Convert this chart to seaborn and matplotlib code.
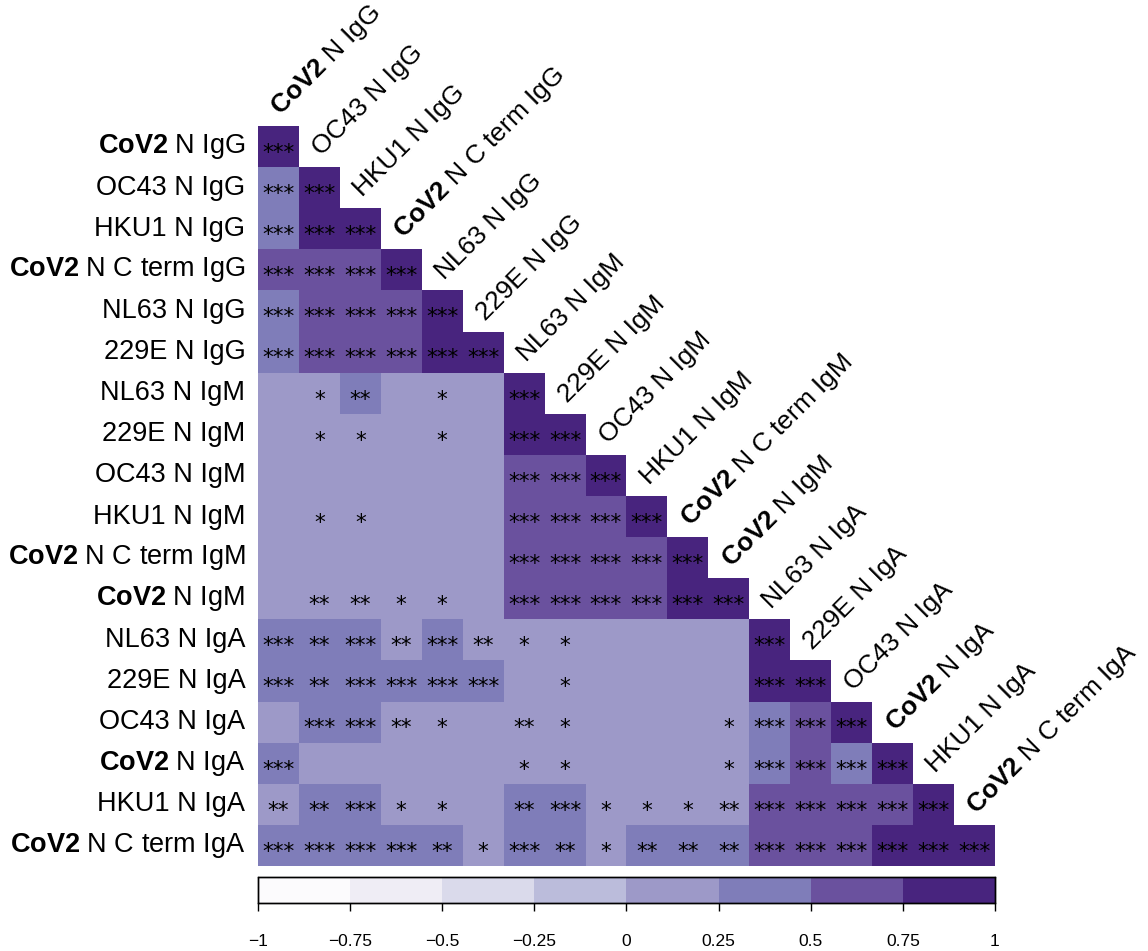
import numpy as np
import pandas as pd
import matplotlib
matplotlib.use("Agg")
import matplotlib.pyplot as plt
from matplotlib.colors import ListedColormap
import seaborn as sns

# Antigen / isotype labels (rows and columns share the same order)
labels = [
    "$\\mathbf{CoV2}$ N IgG", "OC43 N IgG", "HKU1 N IgG", "$\\mathbf{CoV2}$ N C term IgG",
    "NL63 N IgG", "229E N IgG", "NL63 N IgM", "229E N IgM", "OC43 N IgM", "HKU1 N IgM",
    "$\\mathbf{CoV2}$ N C term IgM", "$\\mathbf{CoV2}$ N IgM", "NL63 N IgA", "229E N IgA",
    "OC43 N IgA", "$\\mathbf{CoV2}$ N IgA", "HKU1 N IgA", "$\\mathbf{CoV2}$ N C term IgA",
]

# Lower triangle of the correlation matrix (estimated from the figure)
corr_rows = [
    [1.0],
    [0.45, 1.0],
    [0.45, 0.85, 1.0],
    [0.6, 0.65, 0.65, 1.0],
    [0.45, 0.6, 0.6, 0.6, 1.0],
    [0.45, 0.6, 0.6, 0.6, 0.8, 1.0],
    [0.05, 0.15, 0.26, 0.1, 0.15, 0.1, 1.0],
    [0.05, 0.15, 0.15, 0.1, 0.15, 0.1, 0.85, 1.0],
    [0.05, 0.1, 0.1, 0.05, 0.1, 0.1, 0.7, 0.7, 1.0],
    [0.05, 0.15, 0.15, 0.1, 0.1, 0.1, 0.7, 0.7, 0.7, 1.0],
    [0.05, 0.1, 0.1, 0.1, 0.1, 0.1, 0.65, 0.65, 0.7, 0.7, 1.0],
    [0.1, 0.2, 0.2, 0.15, 0.15, 0.1, 0.7, 0.7, 0.7, 0.7, 0.8, 1.0],
    [0.3, 0.28, 0.3, 0.22, 0.3, 0.2, 0.15, 0.15, 0.05, 0.05, 0.05, 0.1, 1.0],
    [0.35, 0.27, 0.3, 0.3, 0.3, 0.3, 0.1, 0.15, 0.05, 0.05, 0.05, 0.05, 0.85, 1.0],
    [0.1, 0.3, 0.3, 0.2, 0.15, 0.1, 0.2, 0.15, 0.05, 0.05, 0.05, 0.15, 0.45, 0.6, 1.0],
    [0.3, 0.1, 0.1, 0.1, 0.05, 0.05, 0.15, 0.15, 0.05, 0.05, 0.05, 0.15, 0.45, 0.55, 0.45, 1.0],
    [0.2, 0.26, 0.3, 0.15, 0.15, 0.1, 0.26, 0.3, 0.15, 0.15, 0.15, 0.2, 0.65, 0.65, 0.6, 0.65, 1.0],
    [0.35, 0.3, 0.3, 0.3, 0.27, 0.15, 0.3, 0.27, 0.15, 0.26, 0.26, 0.26, 0.7, 0.7, 0.65, 0.8, 0.8, 1.0],
]

# significance stars, same shape as corr_rows
star_rows = [
    ["***"],
    ["***", "***"],
    ["***", "***", "***"],
    ["***", "***", "***", "***"],
    ["***", "***", "***", "***", "***"],
    ["***", "***", "***", "***", "***", "***"],
    ["", "*", "**", "", "*", "", "***"],
    ["", "*", "*", "", "*", "", "***", "***"],
    ["", "", "", "", "", "", "***", "***", "***"],
    ["", "*", "*", "", "", "", "***", "***", "***", "***"],
    ["", "", "", "", "", "", "***", "***", "***", "***", "***"],
    ["", "**", "**", "*", "*", "", "***", "***", "***", "***", "***", "***"],
    ["***", "**", "***", "**", "***", "**", "*", "*", "", "", "", "", "***"],
    ["***", "**", "***", "***", "***", "***", "", "*", "", "", "", "", "***", "***"],
    ["", "***", "***", "**", "*", "", "**", "*", "", "", "", "*", "***", "***", "***"],
    ["***", "", "", "", "", "", "*", "*", "", "", "", "*", "***", "***", "***", "***"],
    ["**", "**", "***", "*", "*", "", "**", "***", "*", "*", "*", "**", "***", "***", "***", "***", "***"],
    ["***", "***", "***", "***", "**", "*", "***", "**", "*", "**", "**", "**", "***", "***", "***", "***", "***", "***"],
]

cbar_ticks = [-1, -0.75, -0.5, -0.25, 0, 0.25, 0.5, 0.75, 1]
cbar_ticklabels = ["\u22121", "\u22120.75", "\u22120.5", "\u22120.25", "0", "0.25", "0.5", "0.75", "1"]

bin_colors = ["#fcfbfd", "#efedf5", "#dadaeb", "#bbbcdb", "#9d99c8", "#7f7db9", "#6a519e", "#48247e"]

n = len(labels)
mat = np.full((n, n), np.nan)
for i, row in enumerate(corr_rows):
    mat[i, :len(row)] = row
df = pd.DataFrame(mat, index=labels, columns=labels)
mask = np.triu(np.ones((n, n), dtype=bool), k=1)

sns.set_style("white")
plt.rcParams["font.family"] = ["Liberation Sans", "DejaVu Sans"]
plt.rcParams["text.color"] = "black"
plt.rcParams["xtick.color"] = "black"
plt.rcParams["ytick.color"] = "black"
plt.rcParams["mathtext.fontset"] = "custom"
plt.rcParams["mathtext.rm"] = "Liberation Sans"
plt.rcParams["mathtext.bf"] = "Liberation Sans:bold"

fig = plt.figure(figsize=(11.48, 9.51), dpi=100)
ax = fig.add_axes([0.2247, 0.0894, 0.642, 0.7781])
cax = fig.add_axes([0.2247, 0.0505, 0.642, 0.0273])

cmap = ListedColormap(bin_colors)
sns.heatmap(df, mask=mask, cmap=cmap, vmin=-1, vmax=1, ax=ax, cbar_ax=cax,
            cbar_kws={"orientation": "horizontal", "ticks": cbar_ticks},
            xticklabels=False, yticklabels=True, linewidths=0)

ax.set_yticklabels(labels, rotation=0, fontsize=19.5, color="black")
ax.tick_params(axis="y", length=0, pad=9)
ax.set_xlabel("")
ax.set_ylabel("")

# stars
for i, row in enumerate(star_rows):
    for j, s in enumerate(row):
        if s:
            ax.text(j + 0.5, i + 0.8, s, ha="center", va="baseline", fontsize=15.5,
                    color="black", family="DejaVu Sans")

# diagonal column labels
for j, lab in enumerate(labels):
    ax.text(j + 0.55, j - 0.25, lab, rotation=45, rotation_mode="anchor",
            ha="left", va="baseline", fontsize=19, clip_on=False, color="black")

# colorbar styling
cax.set_xticklabels(cbar_ticklabels, fontsize=12.5, color="black")
cax.tick_params(axis="x", length=5.5, width=1, pad=17, direction="out", bottom=True, colors="black")
for sp in cax.spines.values():
    sp.set_visible(True)
    sp.set_color("black")
    sp.set_linewidth(1)

fig.savefig("out.png", dpi=100)
